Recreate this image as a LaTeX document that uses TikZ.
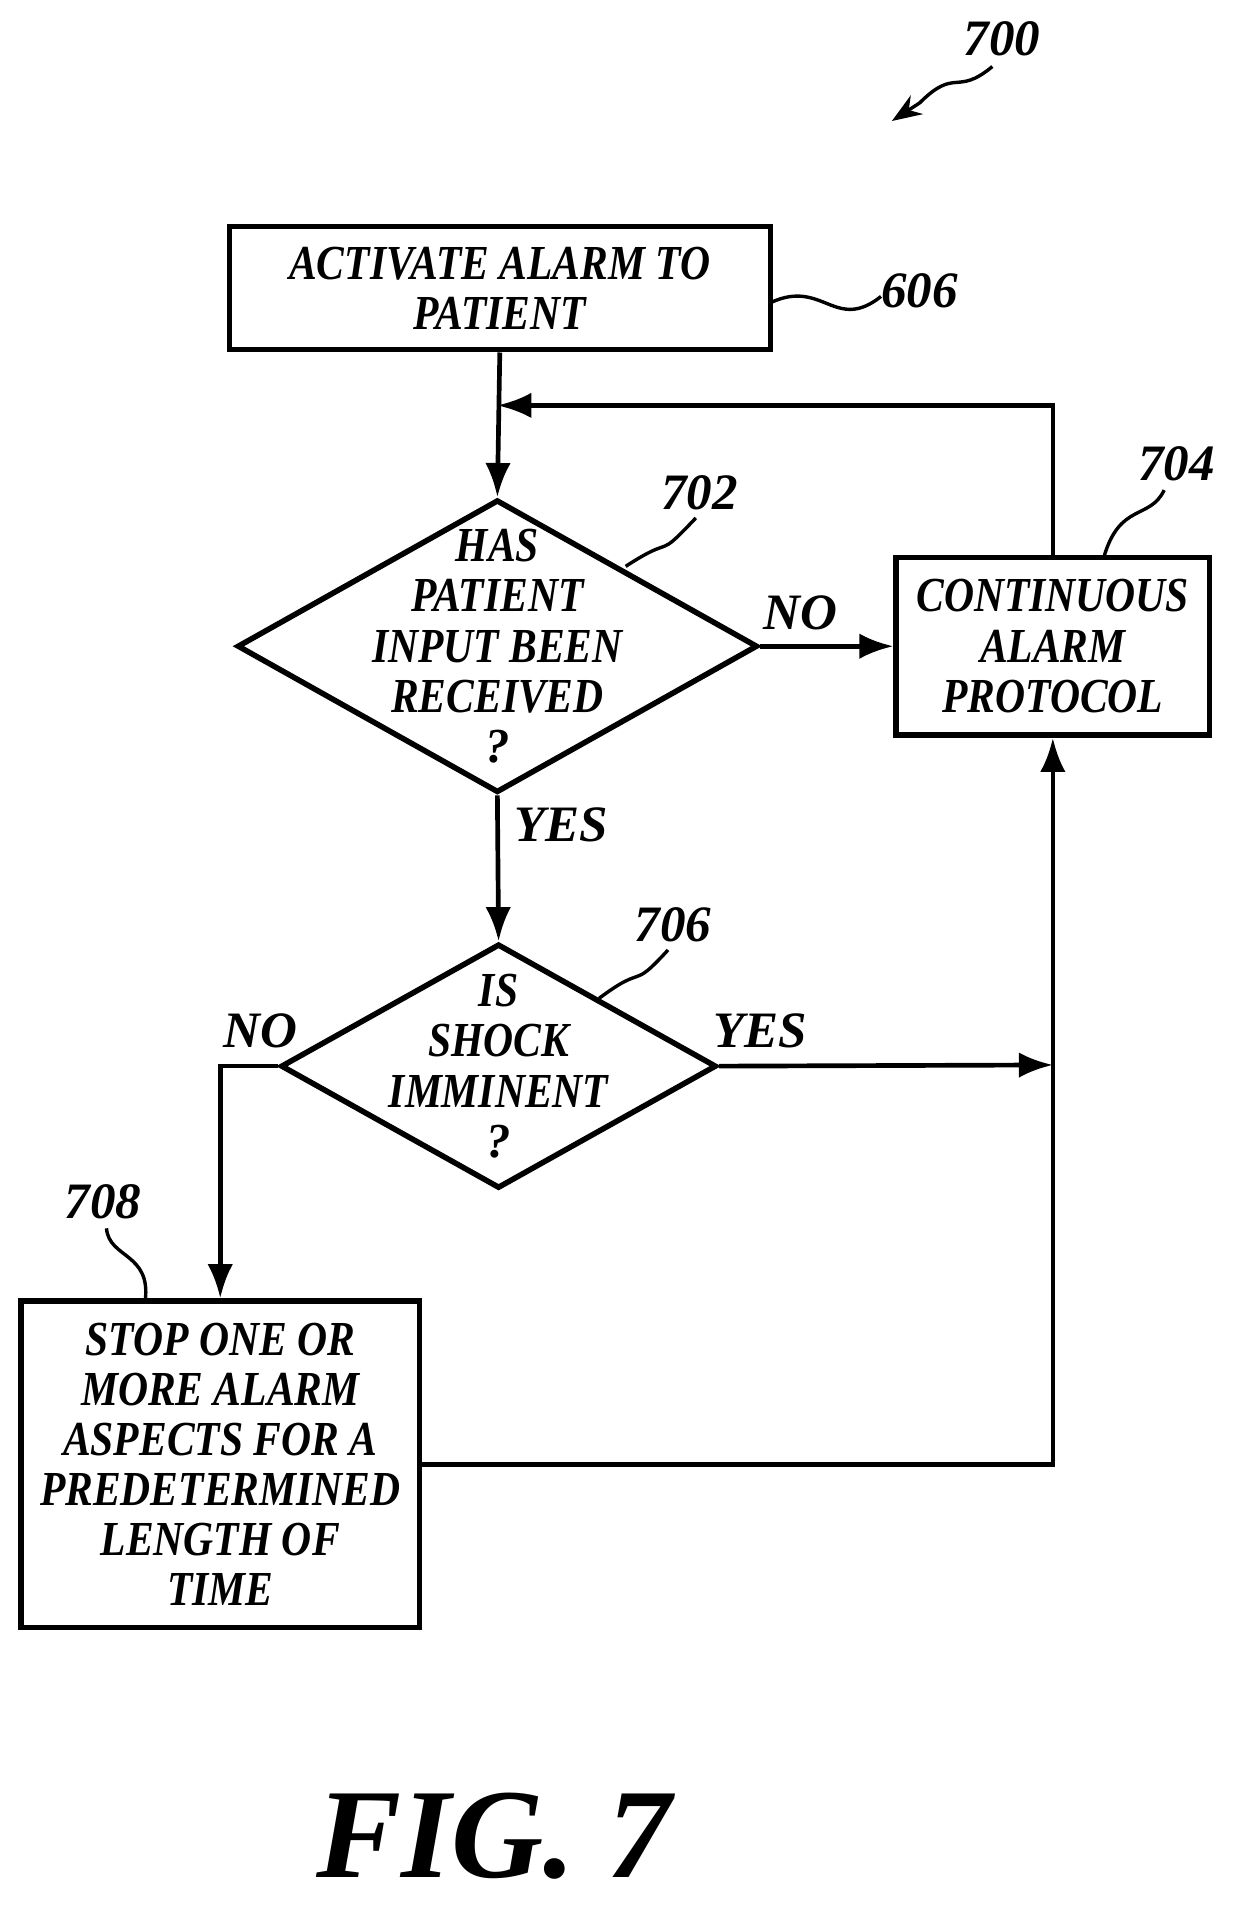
\documentclass[tikz,border=0pt]{standalone}
\usepackage{fontspec}
\setmainfont{Liberation Serif}
\usetikzlibrary{shapes.geometric,arrows.meta}
\tikzset{
  txt/.style={font=\fontsize{11.5}{11.8}\selectfont\bfseries\itshape,align=center},
  box/.style={draw,line width=1.3pt,inner sep=0pt},
  dia/.style={draw,diamond,line width=1.3pt,inner sep=0pt},
  flow/.style={line width=1.1pt,-{Latex[length=8pt,width=6pt]}},
  lead/.style={line width=0.8pt},
  refnum/.style={font=\fontsize{12}{12}\selectfont\bfseries\itshape}
}
\begin{document}
\begin{tikzpicture}[x=0.1mm,y=-0.1mm]
  \useasboundingbox (0,0) rectangle (1024,1575);
  % boxes
  \node[box,minimum width=44.7mm,minimum height=10.2mm] (act) at (413,238) {};
  \node[txt] at (act) {\scalebox{0.85}[1]{ACTIVATE ALARM TO}\\\scalebox{0.85}[1]{PATIENT}};
  \node[dia,minimum width=43mm,minimum height=24.2mm] (has) at (411,534) {};
  \node[txt] at (has) {\scalebox{0.85}[1]{HAS}\\\scalebox{0.85}[1]{PATIENT}\\\scalebox{0.85}[1]{INPUT BEEN}\\\scalebox{0.85}[1]{RECEIVED}\\?};
  \node[box,minimum width=25.9mm,minimum height=14.7mm] (cont) at (870,534) {};
  \node[txt] at (cont) {\scalebox{0.85}[1]{CONTINUOUS}\\\scalebox{0.85}[1]{ALARM}\\\scalebox{0.85}[1]{PROTOCOL}};
  \node[dia,minimum width=36mm,minimum height=20.2mm] (shock) at (412,881) {};
  \node[txt] at (shock) {\scalebox{0.85}[1]{IS}\\\scalebox{0.85}[1]{SHOCK}\\\scalebox{0.85}[1]{IMMINENT}\\?};
  \node[box,minimum width=32.9mm,minimum height=27mm] (stop) at (182,1210) {};
  \node[txt] at (stop) {\scalebox{0.85}[1]{STOP ONE OR}\\\scalebox{0.85}[1]{MORE ALARM}\\\scalebox{0.85}[1]{ASPECTS FOR A}\\\scalebox{0.85}[1]{PREDETERMINED}\\\scalebox{0.85}[1]{LENGTH OF}\\\scalebox{0.85}[1]{TIME}};
  % junction points
  \coordinate (loop) at (411,335);
  \coordinate (meet) at (870,880);
  % connectors
  \draw[flow] (act.south) -- (has.north);
  \draw[flow] (cont.north) |- (loop);
  \draw[flow] (has.east) -- node[above,refnum,pos=0.3]{NO} (cont.west);
  \draw[flow] (has.south) -- node[right,refnum,pos=0.2]{YES} (shock.north);
  \draw[flow] (shock.east) -- (meet);
  \node[refnum] at (628,852) {YES};
  \draw[flow] (shock.west) -| (stop.north);
  \node[refnum] at (215,852) {NO};
  \draw[flow] (stop.east) -| (cont.south);
  % reference numerals
  \node[refnum] (n700) at (828,32) {700};
  \draw[lead,-{Stealth[length=7pt]}] (820,55) .. controls (790,80) and (790,55) .. (760,85) -- (737,100);
  \node[refnum] (n606) at (760,240) {606};
  \draw[lead] (637,250) .. controls (680,230) and (690,275) .. (728,245);
  \node[refnum] (n702) at (578,407) {702};
  \draw[lead] (517,468) .. controls (560,440) and (540,465) .. (575,428);
  \node[refnum] (n704) at (972,383) {704};
  \draw[lead] (912,461) .. controls (925,415) and (950,430) .. (962,405);
  \node[refnum] (n706) at (556,764) {706};
  \draw[lead] (495,825) .. controls (535,795) and (520,820) .. (552,785);
  \node[refnum] (n708) at (85,993) {708};
  \draw[lead] (120,1075) .. controls (125,1035) and (90,1040) .. (88,1015);
  % caption
  \node[font=\fontsize{30}{30}\selectfont\bfseries\itshape] (fig) at (408,1517) {FIG. 7};
\end{tikzpicture}
\end{document}
